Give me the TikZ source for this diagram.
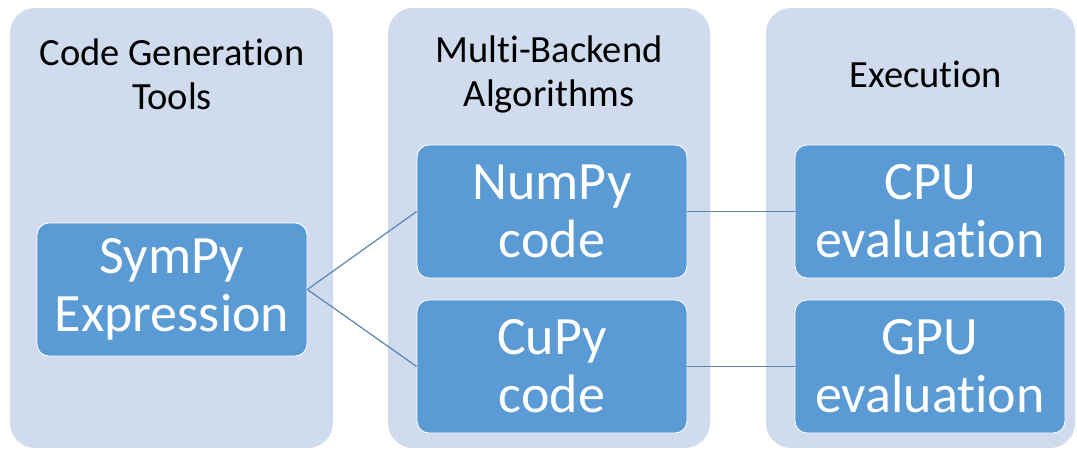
\documentclass[tikz,border=0pt]{standalone}
\usepackage{fontspec}
\setmainfont{Carlito}[Ligatures=NoCommon]
\definecolor{panelfill}{HTML}{D0DBEE}
\definecolor{boxfill}{HTML}{5B9BD5}
\definecolor{linkcol}{HTML}{5A84B4}
\tikzset{
  panel/.style={fill=panelfill, rounded corners=25pt},
  title/.style={text=black, align=center, font=\fontsize{38.5}{44}\selectfont, inner sep=0pt},
  stepbox/.style={fill=boxfill, draw=white, line width=0.8pt, rounded corners=12pt,
    minimum width=270pt, minimum height=133pt, align=center, text=white,
    font=\fontsize{54}{58}\selectfont, inner sep=0pt},
  link/.style={draw=linkcol, line width=1.2pt}
}
\begin{document}
\begin{tikzpicture}[x=1pt, y=-1pt]
  \fill[white] (0,0) rectangle (1077,450);
  \useasboundingbox (0,0) rectangle (1077,450);

  % column backgrounds
  \fill[panel] (10,8) rectangle (333,448);
  \fill[panel] (388,8) rectangle (710,448);
  \fill[panel] (766,8) rectangle (1075,448);

  % column headings
  \node[title] (t1) at (172,74) {Code Generation\\Tools};
  \node[title] (t2) at (549,74) {Multi-Backend\\Algorithms};
  \node[title] (t3) at (926,74) {Execution};

  % stages
  \node[stepbox] (sympy) at (172,289.5) {SymPy\\Expression};
  \node[stepbox] (numpy) at (552,211.5) {NumPy\\code};
  \node[stepbox] (cupy)  at (552,366.5) {CuPy\\code};
  \node[stepbox] (cpu)   at (930,211.5) {CPU\\evaluation};
  \node[stepbox] (gpu)   at (930,366.5) {GPU\\evaluation};

  % connectors
  \draw[link] (sympy.east) -- (numpy.west);
  \draw[link] (sympy.east) -- (cupy.west);
  \draw[link] (numpy.east) -- (cpu.west);
  \draw[link] (cupy.east) -- (gpu.west);
\end{tikzpicture}
\end{document}
